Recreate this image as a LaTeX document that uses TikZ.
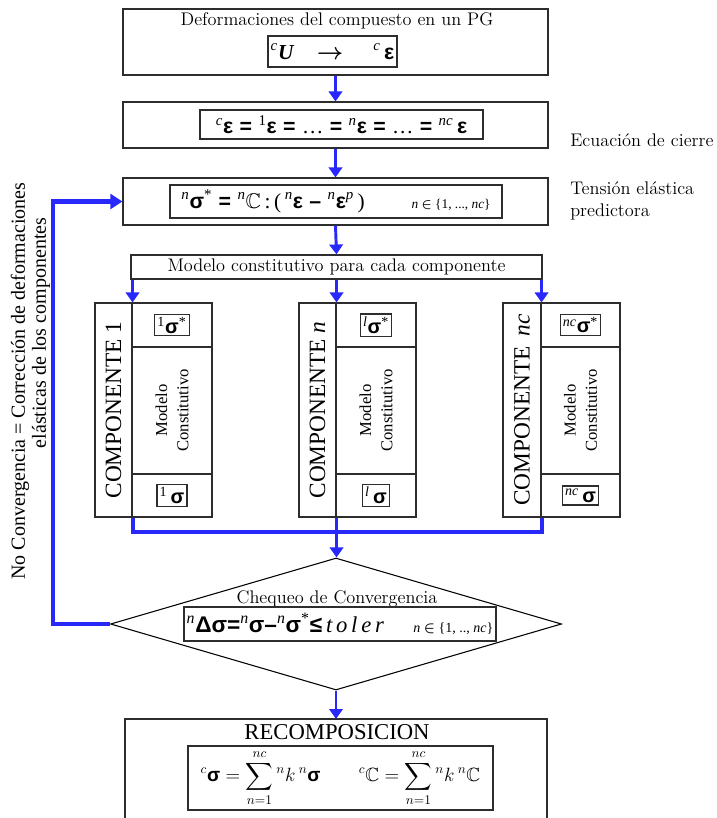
\documentclass[tikz,border=0pt]{standalone}
\usepackage{fontspec}
\usepackage{amsmath,amssymb}
\usetikzlibrary{arrows.meta,shapes.geometric,fit}
\newfontfamily\tms{Liberation Serif}
\newfontfamily\gsf{Liberation Sans}
\newcommand\gb{\gsf\bfseries}
\newcommand\pre[1]{\textsuperscript{\tms\itshape #1}}
\newcommand\preu[1]{\textsuperscript{\tms #1}}
\newcommand\gap{\hspace{0.3em}}
\definecolor{flowblue}{RGB}{40,40,250}
\definecolor{edge}{RGB}{45,45,45}
\begin{document}
\begin{tikzpicture}[x=0.75pt,y=-0.75pt,
  box/.style={draw=edge, line width=0.8pt, inner sep=0pt},
  fml/.style={draw=edge, line width=0.9pt, inner sep=2pt, font=\tms\fontsize{16}{18}\selectfont},
  ttl/.style={inner sep=0pt, font=\fontsize{13.7}{16.5}\selectfont},
  flow/.style={draw=flowblue, line width=2.2pt, -{Triangle[width=10pt,length=7.5pt]}},
  col/.style={draw=flowblue, line width=3pt},
  fb/.style={draw=flowblue, line width=3.5pt, -{Triangle[width=11pt,length=9pt]}},
  rot/.style={rotate=90, inner sep=0pt}]
\useasboundingbox (0,0) rectangle (717,818);

% --- strain of the composite
\node[box, minimum width=318.75pt, minimum height=49.5pt] (b1) at (335.5,42) {};
\node[ttl] (t1) at (337,21) {Deformaciones del compuesto en un PG};
\node[fml, minimum width=90.75pt, minimum height=23.25pt] (f1) at (332.5,51.5)
  {\pre{c}{\bfseries\itshape U}\hspace{1.1em}$\boldsymbol{\rightarrow}$\hspace{1.4em}\pre{c}\,{\gb ε}};

% --- closure equation
\node[box, minimum width=318.75pt, minimum height=34.5pt] (b2) at (335.5,125) {};
\node[fml, minimum width=212.25pt, minimum height=21.75pt] (f2) at (341.5,124.5)
  {\pre{c}{\gb ε}\gap{\gb =}\gap\preu{1}{\gb ε}\gap{\gb =}\gap…\gap{\gb =}\gap\pre{n}{\gb ε}\gap{\gb =}\gap…\gap{\gb =}\gap\pre{nc}\,{\gb ε}};
\node[ttl, anchor=west] (lab1) at (570,140) {Ecuación de cierre};

% --- elastic predictor
\node[box, minimum width=318.75pt, minimum height=35.25pt] (b3) at (335.5,201.5) {};
\node[fml, minimum width=249pt, minimum height=24.75pt] (f3) at (336,201.5)
  {\pre{n}{\gb σ}\textsuperscript{*}\gap{\gb =}\gap\pre{n}$\mathbb{C}$\,:\,(\,\pre{n}{\gb ε}\gap{\gb –}\gap\pre{n}{\gb ε}\textsuperscript{\itshape p}\,)\hspace{2.2em}{\fontsize{10}{12}\selectfont\itshape n $\boldsymbol{\in}$ \upshape\{1, ..., \textit{nc}\}}};
\node[ttl, anchor=west, align=left] (lab2) at (570,201) {Tensión elástica\\predictora};

\draw[flow] (b1.south) -- (b2.north);
\draw[flow] (b2.south) -- (b3.north);

% --- constitutive model dispatch
\node[box, ttl, minimum width=308.25pt, minimum height=18pt] (mod) at (336.5,267) {Modelo constitutivo para cada componente};
\draw[flow] (b3.south) -- (mod.north);

% --- components
\foreach \id/\xl/\xd/\xr/\lab/\pp in {1/95/132/212/{COMPONENTE 1}/{\upshape 1},
    n/299/336/416/{COMPONENTE \textit{n}}/l,
    nc/503/541/620/{COMPONENTE\ \,\textit{nc}}/nc} {
  \node[box, fit={(\xl,303) (\xd,517)}] (L\id) {};
  \node[rot, font=\tms\fontsize{17.5}{20}\selectfont] (T\id) at (L\id.center) {\lab};
  \node[box, fit={(\xd,303) (\xr,347)}] (A\id) {};
  \node[box, fit={(\xd,347) (\xr,474)}] (M\id) {};
  \node[box, fit={(\xd,474) (\xr,517)}] (B\id) {};
  \node[fml, inner sep=2pt, font=\tms\fontsize{15}{17}\selectfont] (s\id) at (A\id.center) {\pre{\pp}{\gb σ}\textsuperscript{*}};
  \node[rot, align=center, font=\tms\fontsize{12.5}{16}\selectfont] (m\id) at (M\id.center) {Modelo\\Constitutivo};
  \node[fml, inner sep=2pt, font=\tms\fontsize{15}{17}\selectfont] (r\id) at (B\id.center) {\pre{\pp}\,{\gb σ}};
  \draw[flow] (L\id.north east |- mod.south) -- (L\id.north east);
}

% --- convergence check
\node[draw=black, line width=0.8pt, shape=diamond, minimum width=338.25pt, minimum height=99pt, inner sep=0pt] (chk) at (336,624) {};
\draw[col] (L1.south east) -- ++(0,14) -| (Lnc.south east);
\draw[flow] (Ln.south east) -- (Ln.south east |- chk.north);
\node[ttl] (cq) at (337,599) {Chequeo de Convergencia};
\node[fml, minimum width=226.5pt, minimum height=25.5pt, font=\tms\fontsize{17}{19}\selectfont] (f4) at (340,624)
  {\pre{n}{\gb Δσ=}\pre{n}{\gb σ–}\pre{n}{\gb σ}\textsuperscript{*}{\gb ≤}\,{\itshape t\,o\,l\,e\,r}\hspace{1.3em}{\fontsize{10.5}{12}\selectfont\itshape n $\boldsymbol{\in}$ \upshape\{1, .., \textit{nc}\}}};

% --- non-convergence feedback
\draw[fb] (chk.west) -- ++(-57,0) |- (b3.west);
\node[rot, font=\tms\fontsize{15}{17}\selectfont] (nc1) at (20,381) {No Convergencia = Corrección de deformaciones};
\node[rot, font=\tms\fontsize{15}{17}\selectfont] (nc2) at (41,333) {elásticas de los componentes};

% --- recomposition
\coordinate (rtl) at (125,719);
\coordinate (rtr) at (547,719);
\coordinate (rtop) at (336,719);
\draw[box] (125,818) -- (rtl) -- (rtr) -- (547,818);
\draw[flow] (chk.south) -- (rtop);
\node[font=\tms\fontsize{17}{20}\selectfont, inner sep=0pt] (rc) at (337,732) {RECOMPOSICION};
\node[fml, minimum width=228.75pt, minimum height=48pt, inner sep=0pt, font=\tms\fontsize{14.4}{16}\selectfont] (f5) at (340.5,778)
  {$\displaystyle {}^{c}\mbox{\gb σ} = \sum_{n=1}^{nc} {}^{n}k\,{}^{n}\mbox{\gb σ} \qquad {}^{c}\mathbb{C} = \sum_{n=1}^{nc} {}^{n}k\,{}^{n}\mathbb{C}$};
\end{tikzpicture}
\end{document}
